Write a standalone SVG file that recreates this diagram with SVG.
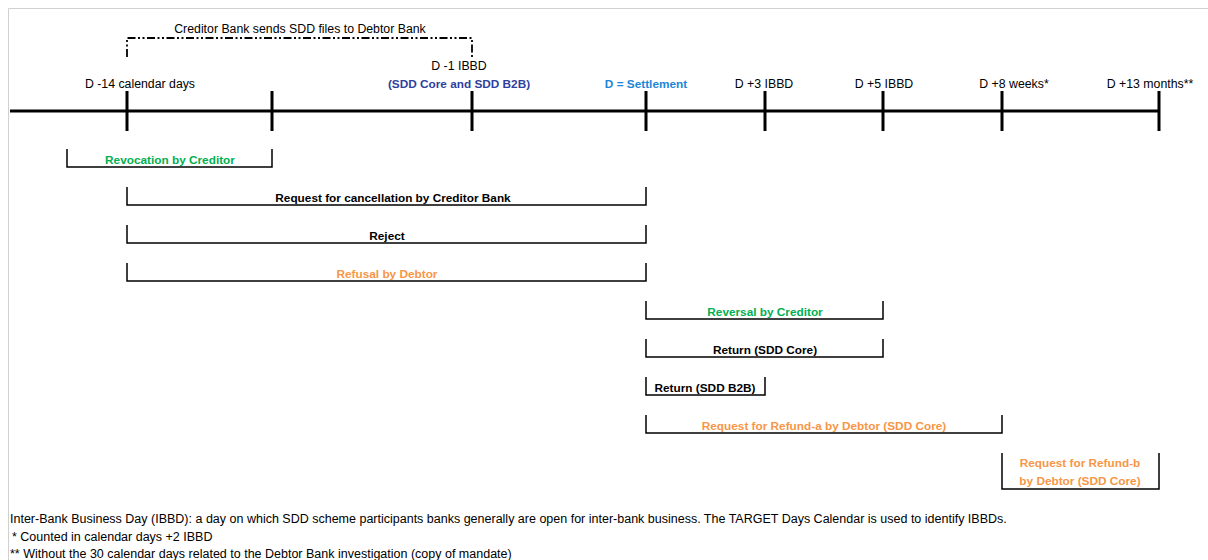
<svg xmlns="http://www.w3.org/2000/svg" width="1208" height="560" viewBox="0 0 1208 560">
<style>
text{font-family:"Liberation Sans",Arial,sans-serif;font-size:12.3px;fill:#000}
.b{font-weight:bold;font-size:11.8px}
.n{font-size:12.5px}
.c{text-anchor:middle}
.g{fill:#00B050}
.o{fill:#F79646}
.db{fill:#2F3F9E}
.lb{fill:#1C86D8}
.ax{stroke:#000;stroke-width:3;fill:none}
.br{stroke:#000;stroke-width:1.5;fill:none}
.dd{stroke:#000;stroke-width:1.8;fill:none;stroke-dasharray:8 2.5 2 2.5 2 2.5}
</style>
<rect x="0" y="0" width="1208" height="560" fill="#fff"/>
<path d="M8.5 560 V8.5 H1208" stroke="#d0d0d0" stroke-width="1" fill="none"/>
<g id="connectors">
<path class="ax" d="M10 111 H1160"/>
<path class="ax" d="M127 91 V131 M272 91 V131 M472 91 V131 M646 91 V131 M765 91 V131 M883 91 V131 M1002 91 V131 M1159 91 V131"/>
<path class="dd" d="M127 57 V38 H472 V58"/>
</g>
<g id="header">
<text class="c" x="300" y="33">Creditor Bank sends SDD files to Debtor Bank</text>
<text class="c" x="459" y="70">D -1 IBBD</text>
<text class="c b db" x="459" y="88">(SDD Core and SDD B2B)</text>
<text class="c" x="140" y="88">D -14 calendar days</text>
<text class="c b lb" x="646" y="88">D = Settlement</text>
<text class="c" x="764" y="88">D +3 IBBD</text>
<text class="c" x="884" y="88">D +5 IBBD</text>
<text class="c" x="1014" y="88">D +8 weeks*</text>
<text class="c" x="1150" y="88">D +13 months**</text>
</g>
<g id="revocation"><path class="br" d="M67 149 V167 H272 V149"/><text class="c b g" x="170" y="164">Revocation by Creditor</text></g>
<g id="cancellation"><path class="br" d="M127 187 V205 H646 V187"/><text class="c b" x="393" y="202">Request for cancellation by Creditor Bank</text></g>
<g id="reject"><path class="br" d="M127 225 V243 H646 V225"/><text class="c b" x="387" y="240">Reject</text></g>
<g id="refusal"><path class="br" d="M127 263 V281 H646 V263"/><text class="c b o" x="387" y="278">Refusal by Debtor</text></g>
<g id="reversal"><path class="br" d="M646 301 V319 H883 V301"/><text class="c b g" x="765" y="316">Reversal by Creditor</text></g>
<g id="return-core"><path class="br" d="M646 339 V357 H883 V339"/><text class="c b" x="765" y="354">Return (SDD Core)</text></g>
<g id="return-b2b"><path class="br" d="M646 377 V395 H765 V377"/><text class="c b" x="705" y="392">Return (SDD B2B)</text></g>
<g id="refund-a"><path class="br" d="M646 415 V433 H1002 V415"/><text class="c b o" x="824" y="430">Request for Refund-a by Debtor (SDD Core)</text></g>
<g id="refund-b"><path class="br" d="M1002 453 V489 H1159 V453"/><text class="c b o" x="1080" y="467">Request for Refund-b</text><text class="c b o" x="1080" y="485">by Debtor (SDD Core)</text></g>
<g id="notes">
<text class="n" x="10" y="523">Inter-Bank Business Day (IBBD): a day on which SDD scheme participants banks generally are open for inter-bank business. The TARGET Days Calendar is used to identify IBBDs.</text>
<text class="n" x="12" y="541">* Counted in calendar days +2 IBBD</text>
<text class="n" x="10" y="558">** Without the 30 calendar days related to the Debtor Bank investigation (copy of mandate)</text>
</g>
</svg>
